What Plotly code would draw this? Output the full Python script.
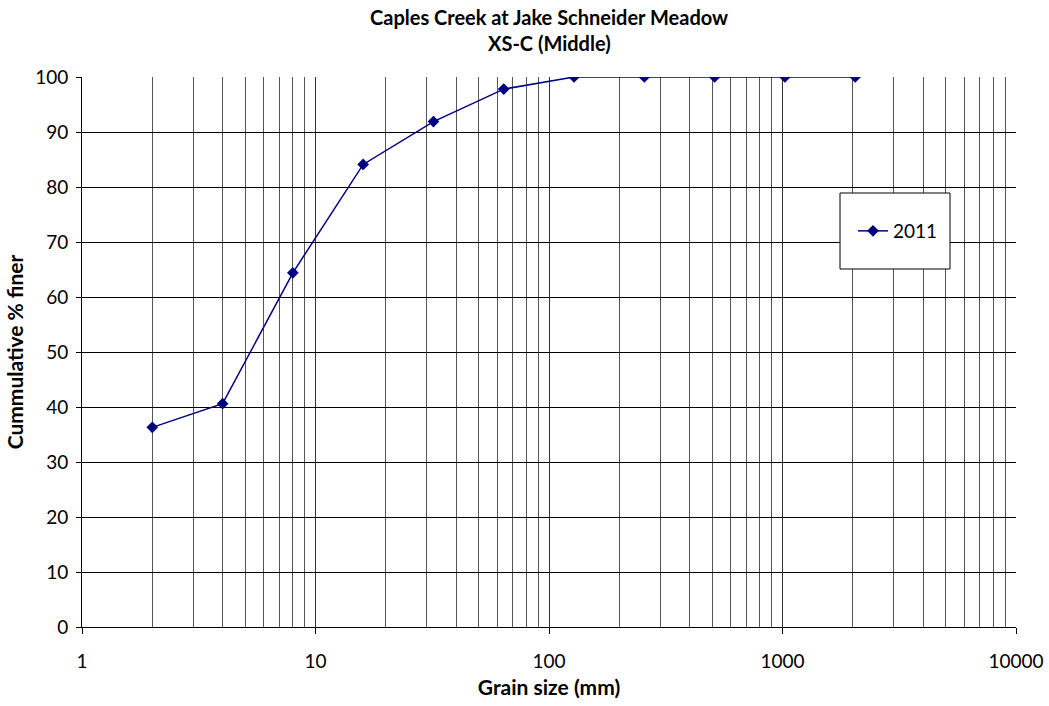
import plotly.graph_objects as go

grain_size_mm = [2, 4, 8, 16, 32, 64, 128, 256, 512, 1024, 2048]
pct_finer_2011 = [36.3, 40.6, 64.4, 84.1, 91.9, 97.8, 100, 100, 100, 100, 100]
y_ticks = list(range(0, 101, 10))
x_ticks = [1, 10, 100, 1000, 10000]

FONT = "Lato, Open Sans, sans-serif"
NAVY = "#000080"
W, H = 1049, 706
L, R, T, B = 82, 33, 77, 79
PW, PH = W - L - R, H - T - B

fig = go.Figure()
fig.add_trace(go.Scatter(
    x=grain_size_mm, y=pct_finer_2011, name="2011",
    mode="lines+markers",
    line=dict(color=NAVY, width=1.5),
    marker=dict(symbol="diamond", size=9, color=NAVY),
))

fig.update_layout(
    width=W, height=H,
    margin=dict(l=L, r=R, t=T, b=B, autoexpand=False),
    paper_bgcolor="white", plot_bgcolor="white",
    font=dict(family=FONT, size=19, color="black"),
    showlegend=True,
    legend=dict(
        x=(853 - L) / PW, y=(H - B - 231) / PH,
        xanchor="left", yanchor="middle",
        bgcolor="rgba(0,0,0,0)", borderwidth=0,
        font=dict(size=19, family=FONT),
        itemwidth=30,
    ),
)

# Two-line chart title
for text, ypix in [("Caples Creek at Jake Schneider Meadow", 17),
                   ("XS-C (Middle)", 43)]:
    fig.add_annotation(
        text=f"<b>{text}</b>", xref="paper", yref="paper",
        x=(549 - L) / PW, y=(H - B - ypix) / PH,
        xanchor="center", yanchor="middle", showarrow=False,
        font=dict(size=20, family=FONT),
    )

fig.update_xaxes(
    type="log", range=[0, 4], automargin=False,
    tickvals=x_ticks, ticktext=[str(v) for v in x_ticks],
    showline=True, linecolor="black", linewidth=1,
    ticks="outside", ticklen=6, tickcolor="black",
    showgrid=True, gridcolor="#333333", gridwidth=1,
    minor=dict(dtick="D1", showgrid=True, gridcolor="#555555", gridwidth=1, ticks=""),
    title=dict(text="<b>Grain size (mm)</b>", font=dict(size=21, family=FONT), standoff=9),
    ticklabelstandoff=11,
    zeroline=False,
)
fig.update_yaxes(
    range=[0, 100], tickvals=y_ticks, automargin=False,
    showline=True, linecolor="black", linewidth=1,
    ticks="outside", ticklen=5, tickcolor="black",
    showgrid=True, gridcolor="black", gridwidth=1,
    title=dict(text="<b>Cummulative % finer</b>", font=dict(size=21, family=FONT), standoff=5),
    ticklabelstandoff=4,
    zeroline=False,
)

# Legend frame
fig.add_shape(
    type="rect", xref="paper", yref="paper",
    x0=(840 - L) / PW, x1=(950 - L) / PW,
    y0=(H - B - 269) / PH, y1=(H - B - 193) / PH,
    line=dict(color="black", width=1), fillcolor="white", layer="above",
)

fig.write_html("out.html")
